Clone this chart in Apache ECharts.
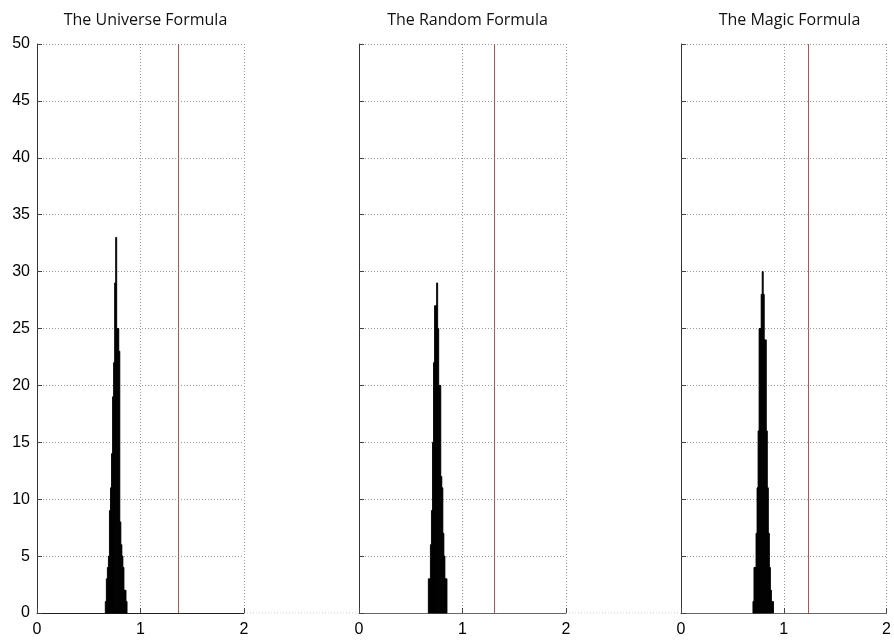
<!DOCTYPE html>
<html>
<head>
<meta charset="utf-8">
<script src="https://cdn.jsdelivr.net/npm/echarts@6/dist/echarts.min.js"></script>
<style>
  html, body { margin: 0; padding: 0; background: #fff; }
  #chart { width: 894px; height: 641px; }
</style>
</head>
<body>
<div id="chart"></div>
<script>
// ---- data ----
const panelTitles = ['The Universe Formula', 'The Random Formula', 'The Magic Formula'];
const xTickValues = [0, 1, 2];
const yTickValues = [0, 5, 10, 15, 20, 25, 30, 35, 40, 45, 50];
const binWidth = 0.01;

const universeCenters = [0.665, 0.675, 0.685, 0.695, 0.705, 0.715, 0.725, 0.735, 0.745, 0.755, 0.765, 0.775, 0.785, 0.795, 0.805, 0.815, 0.825, 0.835, 0.845, 0.855, 0.865];
const universeCounts  = [1, 3, 4, 5, 9, 11, 14, 19, 22, 29, 33, 25, 25, 23, 8, 6, 5, 4, 2, 2, 1];

const randomCenters = [0.675, 0.685, 0.695, 0.705, 0.715, 0.725, 0.735, 0.745, 0.755, 0.765, 0.775, 0.785, 0.795, 0.805, 0.815, 0.825, 0.835, 0.845];
const randomCounts  = [3, 3, 6, 9, 15, 22, 27, 27, 29, 25, 20, 20, 12, 11, 7, 5, 3, 3];

const magicCenters = [0.705, 0.715, 0.725, 0.735, 0.745, 0.755, 0.765, 0.775, 0.785, 0.795, 0.805, 0.815, 0.825, 0.835, 0.845, 0.855, 0.865, 0.875, 0.885, 0.895];
const magicCounts  = [1, 4, 4, 7, 11, 16, 25, 25, 28, 30, 28, 24, 24, 16, 11, 7, 4, 2, 1, 1];

const redLineValues = [1.364, 1.307, 1.237];

// ---- build ----
const panels = [
  { centers: universeCenters, counts: universeCounts },
  { centers: randomCenters, counts: randomCounts },
  { centers: magicCenters, counts: magicCounts }
];
const gridLefts = [37, 359, 681];
const gridWidth = 207;
const gridTop = 44;
const gridHeight = 569;
const chartFont = 'Liberation Sans, Arial, sans-serif';

const grids = [], xAxes = [], yAxes = [], series = [], titles = [];
panels.forEach((p, i) => {
  grids.push({ left: gridLefts[i], top: gridTop, width: gridWidth, height: gridHeight, containLabel: false });
  xAxes.push({
    type: 'value', gridIndex: i, min: xTickValues[0], max: xTickValues[xTickValues.length - 1], interval: 1,
    axisLine: { show: true, onZero: false, lineStyle: { color: i === 0 ? '#222' : '#666', width: 1 } },
    axisTick: { show: true, inside: true, length: 5, lineStyle: { color: '#444' } },
    axisLabel: { show: true, color: '#000', fontSize: 16, fontFamily: chartFont, margin: 9 },
    splitLine: { show: true, lineStyle: { color: '#999', type: [1, 2], width: 1 } }
  });
  yAxes.push({
    type: 'value', gridIndex: i, min: yTickValues[0], max: yTickValues[yTickValues.length - 1], interval: 5,
    axisLine: { show: true, onZero: false, lineStyle: { color: '#333', width: 1 } },
    axisTick: { show: true, inside: true, length: 5, lineStyle: { color: '#444' } },
    axisLabel: { show: i === 0, color: '#000', fontSize: 16, fontFamily: chartFont, margin: 7 },
    splitLine: { show: true, lineStyle: { color: '#999', type: [1, 2], width: 1 } }
  });
  const data = p.centers.map((c, k) => [c - binWidth / 2, c + binWidth / 2, p.counts[k]]);
  series.push({
    type: 'custom', xAxisIndex: i, yAxisIndex: i, data: data, silent: true,
    encode: { x: [0, 1], y: 2 },
    renderItem: function (params, api) {
      const a = api.coord([api.value(0), api.value(2)]);
      const b = api.coord([api.value(1), 0]);
      return {
        type: 'rect',
        shape: { x: a[0], y: a[1], width: b[0] - a[0], height: b[1] - a[1] },
        style: { fill: '#000', stroke: '#000', lineWidth: 0.9 }
      };
    },
    markLine: {
      silent: true, symbol: 'none', animation: false,
      label: { show: false },
      lineStyle: { color: '#c0504d', type: 'solid', width: 1 },
      data: [{ xAxis: redLineValues[i] }]
    },
    z: 3
  });
  titles.push({
    text: panelTitles[i],
    left: gridLefts[i] + gridWidth / 2, top: 7, textAlign: 'center',
    textStyle: { fontFamily: 'Open Sans, Noto Sans, sans-serif', fontSize: 16, fontWeight: 'normal', color: '#111' }
  });
});

const chart = echarts.init(document.getElementById('chart'), null, { renderer: 'canvas' });
chart.setOption({
  animation: false,
  backgroundColor: '#fff',
  title: titles,
  grid: grids,
  xAxis: xAxes,
  yAxis: yAxes,
  series: series,
  graphic: [
    { type: 'line', silent: true, shape: { x1: 247, y1: 613, x2: 357, y2: 613 }, style: { stroke: '#d0d0d0', lineDash: [1, 2], lineWidth: 1 } },
    { type: 'line', silent: true, shape: { x1: 569, y1: 613, x2: 679, y2: 613 }, style: { stroke: '#d0d0d0', lineDash: [1, 2], lineWidth: 1 } }
  ]
});
</script>
</body>
</html>
